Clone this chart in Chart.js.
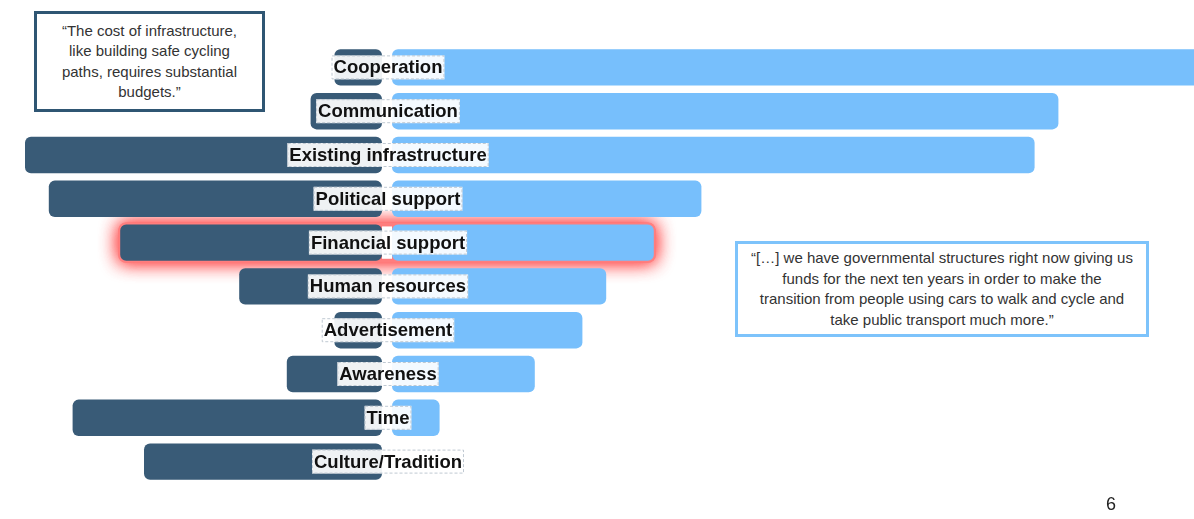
<!DOCTYPE html>
<html>
<head>
<meta charset="utf-8">
<title>Drivers and barriers</title>
<script src="https://cdn.jsdelivr.net/npm/chart.js@4.4.1/dist/chart.umd.min.js"></script>
<style>
    body { margin: 0; background: #fff; font-family: "Liberation Sans", Arial, sans-serif; }
    #wrap { position: relative; width: 1194px; height: 519px; overflow: hidden; }
    #chart { position: absolute; left: 0; top: 0; }
    .quote {
        position: absolute;
        box-sizing: border-box;
        display: flex;
        align-items: center;
        justify-content: center;
        text-align: center;
        font-size: 15px;
        line-height: 20.5px;
        color: #333;
        background: #fff;
    }
    #quote-left { left: 34px; top: 11px; width: 231px; height: 101px; border: 3px solid #2f5673; }
    #quote-right { left: 735px; top: 241px; width: 414px; height: 96px; border: 3px solid #7dc3fb; }
    #page-num { position: absolute; left: 1106px; top: 494px; font-size: 18px; color: #222; }
</style>
</head>
<body>
<div id="wrap">
    <canvas id="chart" width="1194" height="519"></canvas>
    <div class="quote" id="quote-left">“The cost of infrastructure,<br>like building safe cycling<br>paths, requires substantial<br>budgets.”</div>
    <div class="quote" id="quote-right">“[…] we have governmental structures right now giving us<br>funds for the next ten years in order to make the<br>transition from people using cars to walk and cycle and<br>take public transport much more.”</div>
    <div id="page-num">6</div>
</div>
<script>
// Number of mentions per theme: barriers to the left, drivers to the right
const categories = ["Cooperation", "Communication", "Existing infrastructure", "Political support",
    "Financial support", "Human resources", "Advertisement", "Awareness", "Time", "Culture/Tradition"];
const barriers = [2, 3, 15, 14, 11, 6, 2, 4, 13, 10];
const drivers = [35, 28, 27, 13, 11, 9, 8, 6, 2, 0];
const highlighted = "Financial support";

// horizontal layout: pixels per mention and where each side starts
const CANVAS_W = 1194;
const PX_PER_UNIT = 23.8;
const DARK_ZERO = 382;
const LIGHT_ZERO = 392;

// red glow behind the highlighted row
const glowPlugin = {
    id: "rowGlow",
    beforeDatasetsDraw(chart) {
        const i = categories.indexOf(highlighted);
        const a = chart.getDatasetMeta(0).data[i];
        const b = chart.getDatasetMeta(1).data[i];
        if (!a || !b) return;
        const left = Math.min(a.x, a.base);
        const right = Math.max(b.x, b.base);
        const top = a.y - a.height / 2;
        const ctx = chart.ctx;
        ctx.save();
        ctx.shadowColor = "rgba(255, 60, 60, 1)";
        ctx.shadowBlur = 18;
        ctx.fillStyle = "rgba(255, 130, 130, 0.85)";
        for (let k = 0; k < 2; k++) {
            ctx.beginPath();
            ctx.roundRect(left - 2, top - 2, right - left + 4, a.height + 4, 8);
            ctx.fill();
        }
        ctx.shadowBlur = 0;
        ctx.fillStyle = "#fff";
        ctx.fillRect(Math.max(a.x, a.base), top + 2, Math.min(b.x, b.base) - Math.max(a.x, a.base), a.height - 4);
        ctx.restore();
    }
};

// theme names in white dashed boxes across the middle
const labelPlugin = {
    id: "centerLabels",
    afterDatasetsDraw(chart) {
        const ctx = chart.ctx;
        const yScale = chart.scales.y;
        const cx = (chart.scales.xDark.getPixelForValue(0) + chart.scales.xLight.getPixelForValue(0)) / 2 + 1;
        ctx.save();
        ctx.font = "bold 18.5px 'Liberation Sans', Arial, sans-serif";
        ctx.textAlign = "center";
        ctx.textBaseline = "middle";
        categories.forEach((name, i) => {
            const y = yScale.getPixelForValue(i);
            const w = ctx.measureText(name).width + 4;
            const h = 24;
            ctx.fillStyle = "rgba(255, 255, 255, 0.92)";
            ctx.fillRect(cx - w / 2, y - h / 2, w, h);
            ctx.setLineDash([3, 2]);
            ctx.lineWidth = 1;
            ctx.strokeStyle = "rgba(185, 195, 205, 0.9)";
            ctx.strokeRect(cx - w / 2 + 0.5, y - h / 2 + 0.5, w - 1, h - 1);
            ctx.setLineDash([]);
            ctx.fillStyle = "#111";
            ctx.fillText(name, cx, y + 1);
        });
        ctx.restore();
    }
};

new Chart(document.getElementById("chart"), {
    type: "bar",
    data: {
        labels: categories,
        datasets: [
            {
                label: "Barriers",
                data: barriers,
                xAxisID: "xDark",
                backgroundColor: "#395b77",
                borderRadius: 6,
                borderSkipped: false,
                grouped: false,
                barPercentage: 0.83,
                categoryPercentage: 1
            },
            {
                label: "Drivers",
                data: drivers,
                xAxisID: "xLight",
                backgroundColor: "#77bffc",
                borderRadius: 6,
                borderSkipped: false,
                grouped: false,
                barPercentage: 0.83,
                categoryPercentage: 1
            }
        ]
    },
    options: {
        indexAxis: "y",
        responsive: false,
        animation: false,
        layout: { padding: { left: 0, right: 0, top: 45.5, bottom: 35.5 } },
        scales: {
            y: { type: "category", display: false, offset: true },
            xDark: {
                type: "linear", axis: "x", display: false, reverse: true, bounds: "data",
                min: -(CANVAS_W - DARK_ZERO) / PX_PER_UNIT,
                max: DARK_ZERO / PX_PER_UNIT
            },
            xLight: {
                type: "linear", axis: "x", display: false, bounds: "data",
                min: -LIGHT_ZERO / PX_PER_UNIT,
                max: (CANVAS_W - LIGHT_ZERO) / PX_PER_UNIT
            }
        },
        plugins: {
            legend: { display: false },
            tooltip: { enabled: false }
        }
    },
    plugins: [glowPlugin, labelPlugin]
});
</script>
</body>
</html>
